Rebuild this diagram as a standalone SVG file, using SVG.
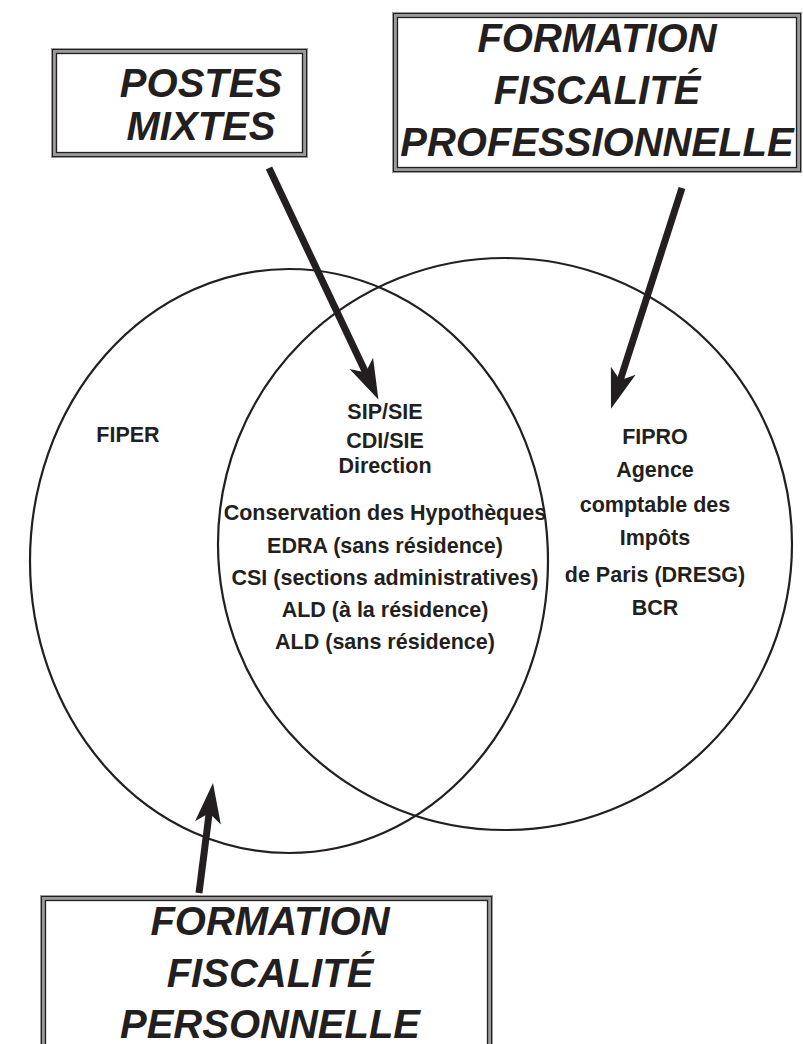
<svg xmlns="http://www.w3.org/2000/svg" width="803" height="1044" viewBox="0 0 803 1044">
<style>
.bg{fill:#fff}
.frame-o{fill:#fff;stroke:#9a9a9a;stroke-width:6}
.frame-m{fill:none;stroke:#231f20;stroke-width:1}
.frame-i{fill:none;stroke:#231f20;stroke-width:1.3}
.big{font-family:"Liberation Sans",Arial,sans-serif;font-weight:bold;font-style:italic;font-size:40px;fill:#231f20;text-anchor:middle}
.lbl{font-family:"Liberation Sans",Arial,sans-serif;font-weight:bold;font-size:21.5px;fill:#231f20;text-anchor:middle}
.ring{fill:none;stroke:#231f20;stroke-width:2.2}
.arrow{stroke:#231f20;stroke-width:7;fill:none}
</style>
<defs>
<marker id="head" markerUnits="userSpaceOnUse" viewBox="-2 -16 46 32" markerWidth="46" markerHeight="32" refX="25" refY="0" orient="auto">
<path d="M40,0 L0,-13 L10,0 L0,13 Z" fill="#231f20"/>
</marker>
</defs>
<rect class="bg" x="0" y="0" width="803" height="1044"/>
<g id="circles">
<ellipse id="circle-fiper" class="ring" cx="289" cy="561" rx="259" ry="292"/>
<ellipse id="circle-fipro" class="ring" cx="505" cy="544" rx="287" ry="286"/>
</g>
<g id="node-postes-mixtes">
<rect class="frame-o" x="54" y="51" width="251" height="104"/>
<rect class="frame-m" x="52.5" y="49.5" width="254" height="107"/>
<rect class="frame-i" x="56.5" y="53.5" width="246" height="99"/>
<text class="big" x="201" y="97">POSTES</text>
<text class="big" x="201" y="140">MIXTES</text>
</g>
<g id="node-ffp">
<rect class="frame-o" x="395" y="15" width="404" height="155"/>
<rect class="frame-m" x="393.5" y="13.5" width="407" height="158"/>
<rect class="frame-i" x="397.5" y="17.5" width="399" height="150"/>
<text class="big" x="597" y="52">FORMATION</text>
<text class="big" x="597" y="104">FISCALITÉ</text>
<text class="big" x="597" y="156">PROFESSIONNELLE</text>
</g>
<g id="node-ffpers">
<rect class="frame-o" x="43" y="898" width="447" height="160"/>
<rect class="frame-m" x="41.5" y="896.5" width="450" height="163"/>
<rect class="frame-i" x="45.5" y="900.5" width="442" height="155"/>
<text class="big" x="270" y="935">FORMATION</text>
<text class="big" x="270" y="987">FISCALITÉ</text>
<text class="big" x="270" y="1038">PERSONNELLE</text>
</g>
<g id="node-fiper">
<text class="lbl" x="128" y="442">FIPER</text>
</g>
<g id="node-mixed">
<text class="lbl" x="385" y="419">SIP/SIE</text>
<text class="lbl" x="385" y="448">CDI/SIE</text>
<text class="lbl" x="385" y="473">Direction</text>
<text class="lbl" x="385" y="520">Conservation des Hypothèques</text>
<text class="lbl" x="385" y="553">EDRA (sans résidence)</text>
<text class="lbl" x="385" y="585">CSI (sections administratives)</text>
<text class="lbl" x="385" y="617">ALD (à la résidence)</text>
<text class="lbl" x="385" y="649">ALD (sans résidence)</text>
</g>
<g id="node-fipro">
<text class="lbl" x="655" y="444">FIPRO</text>
<text class="lbl" x="655" y="477">Agence</text>
<text class="lbl" x="655" y="512">comptable des</text>
<text class="lbl" x="655" y="545">Impôts</text>
<text class="lbl" x="655" y="582">de Paris (DRESG)</text>
<text class="lbl" x="655" y="615">BCR</text>
</g>
<g id="connectors">
<path class="arrow" d="M269,168 L372,386" marker-end="url(#head)"/>
<path class="arrow" d="M682,188 L615.6,394.5" marker-end="url(#head)"/>
<path class="arrow" d="M199,893 L211.1,798" marker-end="url(#head)"/>
</g>
</svg>
